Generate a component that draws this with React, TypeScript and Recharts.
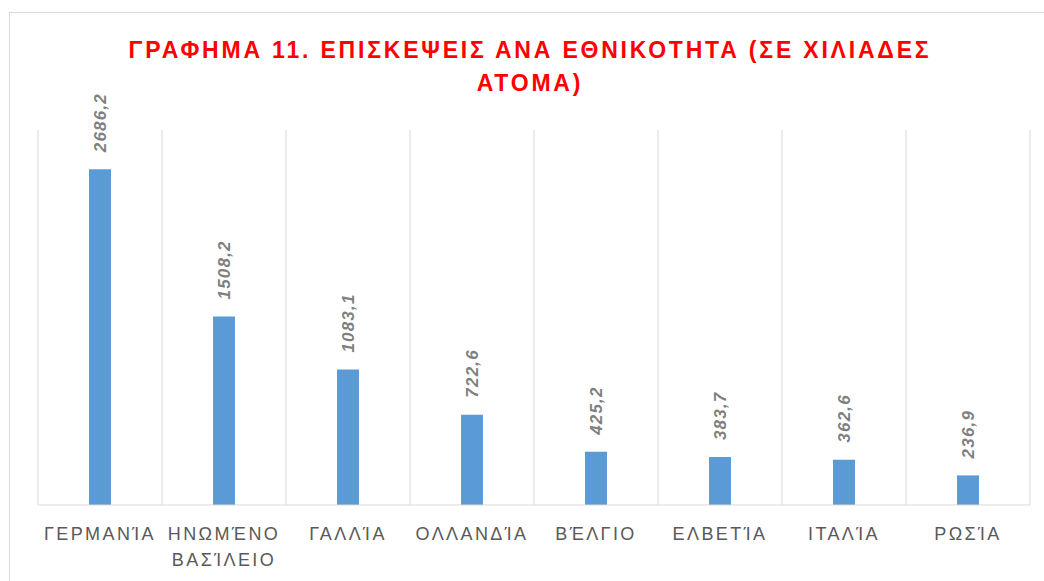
import { BarChart, Bar, XAxis, YAxis, CartesianGrid, LabelList } from 'recharts';

const countries = [
  'ΓΕΡΜΑΝΊΑ',
  'ΗΝΩΜΈΝΟ ΒΑΣΊΛΕΙΟ',
  'ΓΑΛΛΊΑ',
  'ΟΛΛΑΝΔΊΑ',
  'ΒΈΛΓΙΟ',
  'ΕΛΒΕΤΊΑ',
  'ΙΤΑΛΊΑ',
  'ΡΩΣΊΑ',
];
const visits = [2686.2, 1508.2, 1083.1, 722.6, 425.2, 383.7, 362.6, 236.9];
const titleLines = ['ΓΡΑΦΗΜΑ 11. ΕΠΙΣΚΕΨΕΙΣ ΑΝΑ ΕΘΝΙΚΟΤΗΤΑ (ΣΕ ΧΙΛΙΑΔΕΣ', 'ΑΤΟΜΑ)'];

const data = countries.map((name, i) => ({ name, value: visits[i] }));

const FONT = '"Liberation Sans", Arial, sans-serif';

const CountryTick = (props: any) => {
  const { x, y, payload } = props;
  const lines = String(payload.value).split(' ');
  return (
    <g>
      {lines.map((line, i) => (
        <text
          key={i}
          x={x}
          y={y + 27 + i * 26}
          textAnchor="middle"
          fontFamily={FONT}
          fontSize={18}
          letterSpacing={2.4}
          fill="#595959"
        >
          {line}
        </text>
      ))}
    </g>
  );
};

const ValueLabel = (props: any) => {
  const { x, y, width, value } = props;
  const cx = x + width / 2;
  const cy = y - 17;
  return (
    <text
      x={cx}
      y={cy}
      dy="0.36em"
      transform={`rotate(-90, ${cx}, ${cy})`}
      textAnchor="start"
      fontFamily={FONT}
      fontSize={17}
      fontWeight="bold"
      fontStyle="italic"
      letterSpacing={1.2}
      fill="#7f7f7f"
    >
      {value.toFixed(1).replace('.', ',')}
    </text>
  );
};

export default function App() {
  return (
    <div style={{ position: 'absolute', left: 0, top: 0, width: 1044, height: 581, overflow: 'hidden', background: '#fff' }}>
      <div
        style={{
          position: 'absolute',
          left: 9,
          top: 12,
          width: 1100,
          height: 640,
          border: '1px solid #d9d9d9',
        }}
      />
      <div
        style={{
          position: 'absolute',
          left: 0,
          top: 34,
          width: 1060,
          textAlign: 'center',
          fontFamily: FONT,
          fontWeight: 'bold',
          fontSize: 23,
          letterSpacing: 2.8,
          lineHeight: '33px',
          color: '#ff0000',
        }}
      >
        {titleLines.map((l, i) => (
          <div key={i}>{l}</div>
        ))}
      </div>
      <div style={{ position: 'absolute', left: 0, top: 0 }}>
        <BarChart
          width={1044}
          height={581}
          data={data}
          margin={{ top: 130, right: 14, left: 38, bottom: 0 }}
        >
          <CartesianGrid
            horizontal={false}
            stroke="#d9d9d9"
            verticalCoordinatesGenerator={({ offset }: any) =>
              Array.from(
                { length: countries.length + 1 },
                (_, i) => offset.left + (i * offset.width) / countries.length
              )
            }
          />
          <XAxis
            dataKey="name"
            interval={0}
            height={76}
            tickLine={false}
            axisLine={{ stroke: '#d9d9d9' }}
            tick={<CountryTick />}
          />
          <YAxis hide domain={[0, 3000]} />
          <Bar dataKey="value" fill="#5b9bd5" barSize={22} isAnimationActive={false}>
            <LabelList dataKey="value" content={<ValueLabel />} />
          </Bar>
        </BarChart>
      </div>
    </div>
  );
}
